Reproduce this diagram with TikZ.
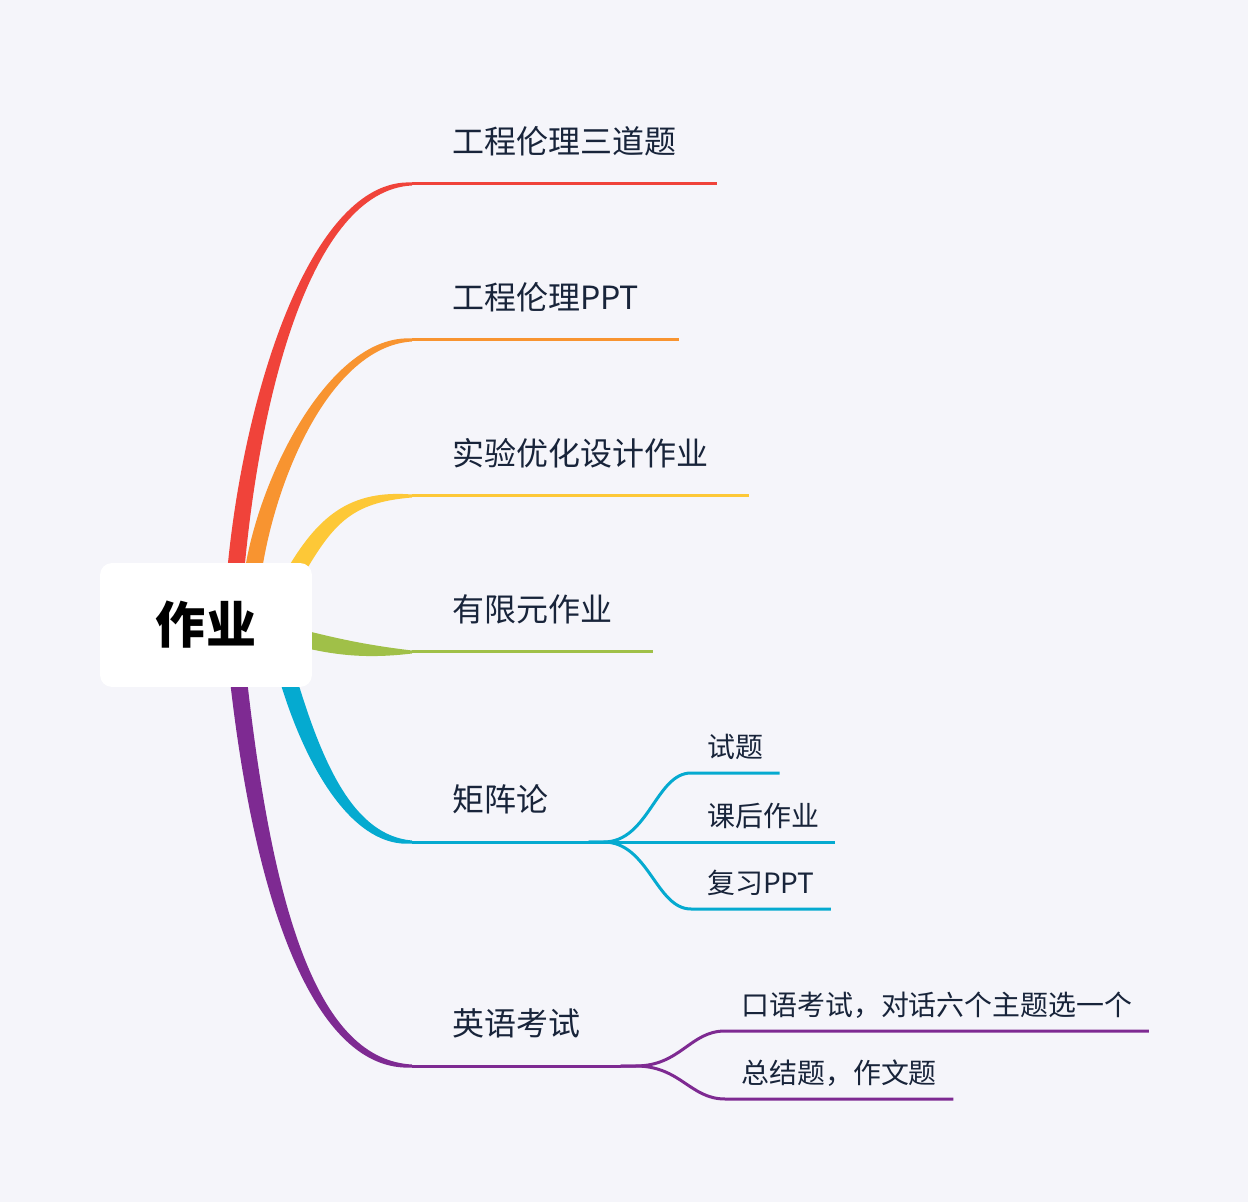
\documentclass[tikz,border=0pt]{standalone}
\usepackage{fontspec}
\setmainfont{Noto Sans CJK SC}
\usepackage{tikz}
\usetikzlibrary{calc, backgrounds}
\definecolor{mmbg}{RGB}{245, 245, 250}
\definecolor{mmink}{RGB}{24, 36, 58}
\definecolor{mmred}{RGB}{240, 67, 58}
\definecolor{mmorange}{RGB}{248, 148, 48}
\definecolor{mmyellow}{RGB}{253, 200, 55}
\definecolor{mmgreen}{RGB}{160, 192, 72}
\definecolor{mmcyan}{RGB}{5, 170, 208}
\definecolor{mmpurple}{RGB}{126, 42, 146}
\tikzset{
  root/.style={fill=white, rounded corners=0.24cm, minimum width=4.24cm,
    minimum height=2.48cm, text=black, font=\bfseries\fontsize{28.5}{30}\selectfont},
  topic/.style={anchor=south west, text=mmink, inner xsep=0.8cm, inner ysep=0.6cm,
    text depth=0pt, font=\fontsize{18.2}{20}\selectfont},
  subtopic/.style={anchor=south west, text=mmink, inner xsep=0.32cm, inner ysep=0.3cm,
    text depth=0pt, font=\fontsize{15.9}{18}\selectfont},
  underline/.style={line width=0.06cm},
}
% tapered branch: colour, start, control 1, control 2, end
\newcommand{\mmbranch}[5]{%
  \fill[#1] ($#2!0.17cm!90:#3$) .. controls ($#3!0.17cm!-90:#2$) and ($#4!0.13cm!90:#5$) .. ($#5!0.03cm!-90:#4$)
    -- ($#5!0.03cm!90:#4$) .. controls ($#4!0.13cm!-90:#5$) and ($#3!0.17cm!90:#2$) .. ($#2!0.17cm!-90:#3$) -- cycle;}

\begin{document}
\begin{tikzpicture}[x=0.02cm, y=-0.02cm]
  \useasboundingbox (0,0) rectangle (1248,1202);

  % Root
  \node[root] (root) at (206,625) {作业};

  % Topics
  \node[topic] (eth) at (412,184) {工程伦理三道题};
  \node[topic] (ppt) at (412,340) {工程伦理PPT};
  \node[topic] (doe) at (412,496) {实验优化设计作业};
  \node[topic] (fem) at (412,652) {有限元作业};
  \node[topic] (mat) at (412,842) {矩阵论};
  \node[topic] (eng) at (412,1066) {英语考试};

  % Subtopics
  \node[subtopic] (mat1) at (691,773) {试题};
  \node[subtopic] (mat2) at (691,842) {课后作业};
  \node[subtopic] (mat3) at (691,909) {复习PPT};
  \node[subtopic] (eng1) at (725,1031) {口语考试，对话六个主题选一个};
  \node[subtopic] (eng2) at (725,1099) {总结题，作文题};

  % Branch start points
  \coordinate (s1) at ($(root.north)+(29,17)$);
  \coordinate (s2) at ($(root.north)+(46,17)$);
  \coordinate (s3) at ($(root.north)+(86,15)$);
  \coordinate (s4) at ($(root.east)+(-12,13)$);
  \coordinate (s5) at ($(root.south)+(81,-12)$);
  \coordinate (s6) at ($(root.south)+(32,-12)$);

  \begin{scope}[on background layer]
    \fill[mmbg] (0,0) rectangle (1248,1202);
    \mmbranch{mmred}{(s1)}{(250,400)}{(310,184)}{(eth.south west)}
    \mmbranch{mmorange}{(s2)}{(265,480)}{(330,340)}{(ppt.south west)}
    \mmbranch{mmyellow}{(s3)}{(325,520)}{(350,496)}{(doe.south west)}
    \mmbranch{mmgreen}{(s4)}{(340,648)}{(370,652)}{(fem.south west)}
    \mmbranch{mmcyan}{(s5)}{(315,770)}{(355,842)}{(mat.south west)}
    \mmbranch{mmpurple}{(s6)}{(265,920)}{(320,1066)}{(eng.south west)}
  \end{scope}

  % Underlines
  \draw[underline, mmred] (eth.south west) -- (eth.south east);
  \draw[underline, mmorange] (ppt.south west) -- (ppt.south east);
  \draw[underline, mmyellow] (doe.south west) -- (doe.south east);
  \draw[underline, mmgreen] (fem.south west) -- (fem.south east);
  \draw[underline, mmcyan] (mat.south west) -- (mat.south east);
  \draw[underline, mmpurple] (eng.south west) -- (eng.south east);

  % Subtopic connectors
  \draw[underline, mmcyan] (mat.south east) -- ++(15,0) .. controls +(45,0) and +(-35,0) .. (mat1.south west) -- (mat1.south east);
  \draw[underline, mmcyan] (mat.south east) -- (mat2.south west) -- (mat2.south east);
  \draw[underline, mmcyan] (mat.south east) -- ++(15,0) .. controls +(45,0) and +(-35,0) .. (mat3.south west) -- (mat3.south east);
  \draw[underline, mmpurple] (eng.south east) -- ++(15,0) .. controls +(45,0) and +(-35,0) .. (eng1.south west) -- (eng1.south east);
  \draw[underline, mmpurple] (eng.south east) -- ++(15,0) .. controls +(45,0) and +(-35,0) .. (eng2.south west) -- (eng2.south east);
\end{tikzpicture}
\end{document}
